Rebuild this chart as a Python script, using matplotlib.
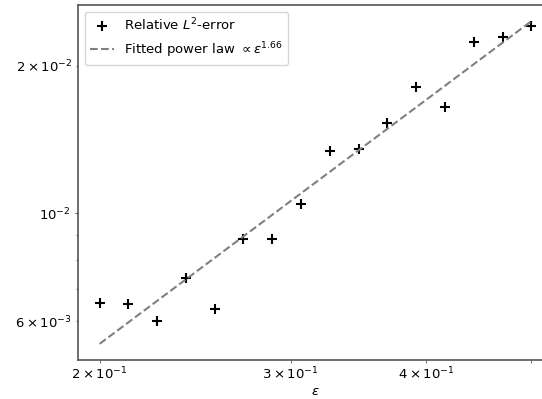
import matplotlib
matplotlib.use("Agg")
import matplotlib.pyplot as plt

plt.rcParams["font.size"] = 9.5

# step sizes (log spaced) and relative L2 errors
eps = [0.2000, 0.2126, 0.2260, 0.2402, 0.2554, 0.2714, 0.2885, 0.3067,
       0.3260, 0.3466, 0.3684, 0.3916, 0.4163, 0.4425, 0.4704, 0.5000]
err = [0.00655, 0.00651, 0.00602, 0.00738, 0.00636, 0.00884, 0.00884, 0.01045,
       0.01338, 0.01353, 0.01525, 0.01811, 0.01647, 0.02237, 0.02288, 0.02416]

# fitted power law, endpoints
fit_eps = [0.2, 0.5]
fit_err = [0.00540, 0.02470]
fit_exp = 1.66

fig = plt.figure(figsize=(5.42, 3.99), dpi=100)
# right spine falls just outside the picture, as in the original crop
ax = fig.add_axes([78 / 542, 39 / 399, (553 - 78) / 542, (394 - 39) / 399])

ax.plot(eps, err, "+", color="k", markersize=7, markeredgewidth=1.5,
        label=r"Relative $L^2$-error")
ax.plot(fit_eps, fit_err, "--", color="gray", linewidth=1.5,
        label=r"Fitted power law $\propto \varepsilon^{%.2f}$" % fit_exp)
ax.set_xscale("log")
ax.set_yscale("log")
ax.set_xlabel(r"$\varepsilon$", labelpad=2)
ax.legend(loc="upper left", handlelength=1.8)

for s in ax.spines.values():
    s.set_color("#555555")
    s.set_linewidth(1.2)
ax.tick_params(which="major", length=2.5, pad=2.5, color="#555555")
ax.tick_params(which="minor", length=1.8, pad=2.5, color="#555555")

fig.savefig("out.png", dpi=100)
